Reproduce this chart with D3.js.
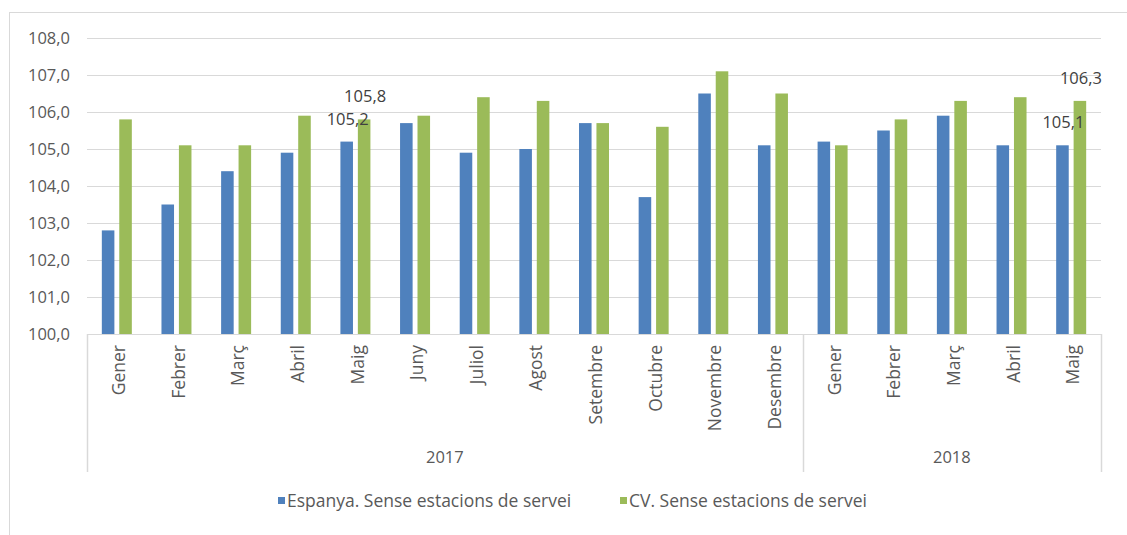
<!DOCTYPE html>
<html>
<head>
<meta charset="utf-8">
<script src="https://cdn.jsdelivr.net/npm/d3@7"></script>
<style>
  html, body { margin: 0; padding: 0; background: #fff; }
  svg { display: block; font-family: "Open Sans", Lato, sans-serif; }
</style>
</head>
<body>
<svg id="chart" width="1127" height="535"></svg>
<script>
const months = ["Gener","Febrer","Març","Abril","Maig","Juny","Juliol","Agost","Setembre","Octubre","Novembre","Desembre","Gener","Febrer","Març","Abril","Maig"];
const years = ["2017","2017","2017","2017","2017","2017","2017","2017","2017","2017","2017","2017","2018","2018","2018","2018","2018"];
const yearGroups = ["2017","2018"];
const seriesNames = ["Espanya. Sense estacions de servei","CV. Sense estacions de servei"];
const espanya = [102.8,103.5,104.4,104.9,105.2,105.7,104.9,105.0,105.7,103.7,106.5,105.1,105.2,105.5,105.9,105.1,105.1];
const cv      = [105.8,105.1,105.1,105.9,105.8,105.9,106.4,106.3,105.7,105.6,107.1,106.5,105.1,105.8,106.3,106.4,106.3];
const yTicks = [100,101,102,103,104,105,106,107,108];
const labelledIdx = [4,16];
const colors = ["#4f81bd","#9bbb59"];

const svg = d3.select("#chart");
const mLeft = 87, mRight = 1101, mTop = 38, mBottom = 334;
const idx = d3.range(months.length);
const fontTick = "16.5px", fontCat = "17.5px", fontLegend = "17.5px";

// outer chart border
svg.append("rect").attr("x",9.5).attr("y",12.5).attr("width",1140).attr("height",540)
  .attr("fill","none").attr("stroke","#d9d9d9").attr("stroke-width",1);

const x = d3.scaleBand().domain(idx).range([mLeft,mRight]).paddingInner(0).paddingOuter(0);
const bw = x.bandwidth();
const x1 = d3.scaleBand().domain([0,1]).range([bw/2-15, bw/2+15]).paddingInner(0.28).paddingOuter(0);
const y = d3.scaleLinear().domain([100,108]).range([mBottom, mTop]);

// gridlines
svg.append("g").selectAll("line").data(yTicks.slice(1)).join("line")
  .attr("x1",mLeft).attr("x2",mRight)
  .attr("y1",d=>Math.round(y(d))+0.5).attr("y2",d=>Math.round(y(d))+0.5)
  .attr("stroke","#d9d9d9").attr("stroke-width",1.2);

// y axis labels
const yAxis = d3.axisLeft(y).tickValues(yTicks).tickSize(0).tickPadding(17)
  .tickFormat(d => d3.format(".1f")(d).replace(".",","));
const ya = svg.append("g").attr("transform",`translate(${mLeft},0)`).call(yAxis);
ya.select(".domain").remove();
ya.selectAll("text").attr("fill","#595959").style("font-size",fontTick).style("font-family","Open Sans");

// bars
const data = [espanya, cv];
data.forEach((vals, s) => {
  svg.append("g").selectAll("rect").data(idx).join("rect")
    .attr("x", i => x(i) + x1(s))
    .attr("width", x1.bandwidth())
    .attr("y", i => y(vals[i]))
    .attr("height", i => y(100) - y(vals[i]))
    .attr("fill", colors[s]);
});

// data labels
data.forEach((vals, s) => {
  svg.append("g").selectAll("text").data(labelledIdx).join("text")
    .attr("x", i => x(i) + x1(s) + x1.bandwidth()/2 + 1)
    .attr("y", i => y(vals[i]) - 17)
    .attr("text-anchor","middle")
    .attr("fill","#404040")
    .style("font-size",fontTick)
    .text(i => d3.format(".1f")(vals[i]).replace(".",","));
});

// x axis baseline
svg.append("line").attr("x1",mLeft).attr("x2",mRight).attr("y1",mBottom+0.5).attr("y2",mBottom+0.5)
  .attr("stroke","#d9d9d9").attr("stroke-width",1.2);

// month labels
const xAxis = d3.axisBottom(x).tickSize(0).tickFormat(i => months[i]);
const xa = svg.append("g").attr("transform",`translate(0,${mBottom})`).call(xAxis);
xa.select(".domain").remove();
xa.selectAll("text")
  .attr("transform","rotate(-90)")
  .attr("x",-11).attr("y",2).attr("dy","0.35em")
  .attr("text-anchor","end")
  .attr("fill","#595959")
  .style("font-size",fontCat).style("font-family","Open Sans");

// year group separators and labels
const groupBounds = yearGroups.map(g => {
  const ii = idx.filter(i => years[i] === g);
  return {g, x0: x(ii[0]), x1: x(ii[ii.length-1]) + bw};
});
const seps = [mLeft, ...groupBounds.map(b => b.x1)];
svg.append("g").selectAll("line").data(seps).join("line")
  .attr("x1",d=>Math.round(d)+0.5).attr("x2",d=>Math.round(d)+0.5)
  .attr("y1",mBottom).attr("y2",472)
  .attr("stroke","#d9d9d9").attr("stroke-width",1.5);
svg.append("g").selectAll("text").data(groupBounds).join("text")
  .attr("x", b => (b.x0 + b.x1)/2)
  .attr("y", 457).attr("dy","0.35em")
  .attr("text-anchor","middle").attr("fill","#595959")
  .style("font-size",fontTick)
  .text(b => b.g);

// legend
const legendX = [278, 620];
const lg = svg.append("g");
seriesNames.forEach((n, s) => {
  lg.append("rect").attr("x",legendX[s]).attr("y",497).attr("width",7).attr("height",7).attr("fill",colors[s]);
  lg.append("text").attr("x",legendX[s]+9).attr("y",500.5).attr("dy","0.35em")
    .attr("fill","#595959").style("font-size",fontLegend).text(n);
});
</script>
</body>
</html>
